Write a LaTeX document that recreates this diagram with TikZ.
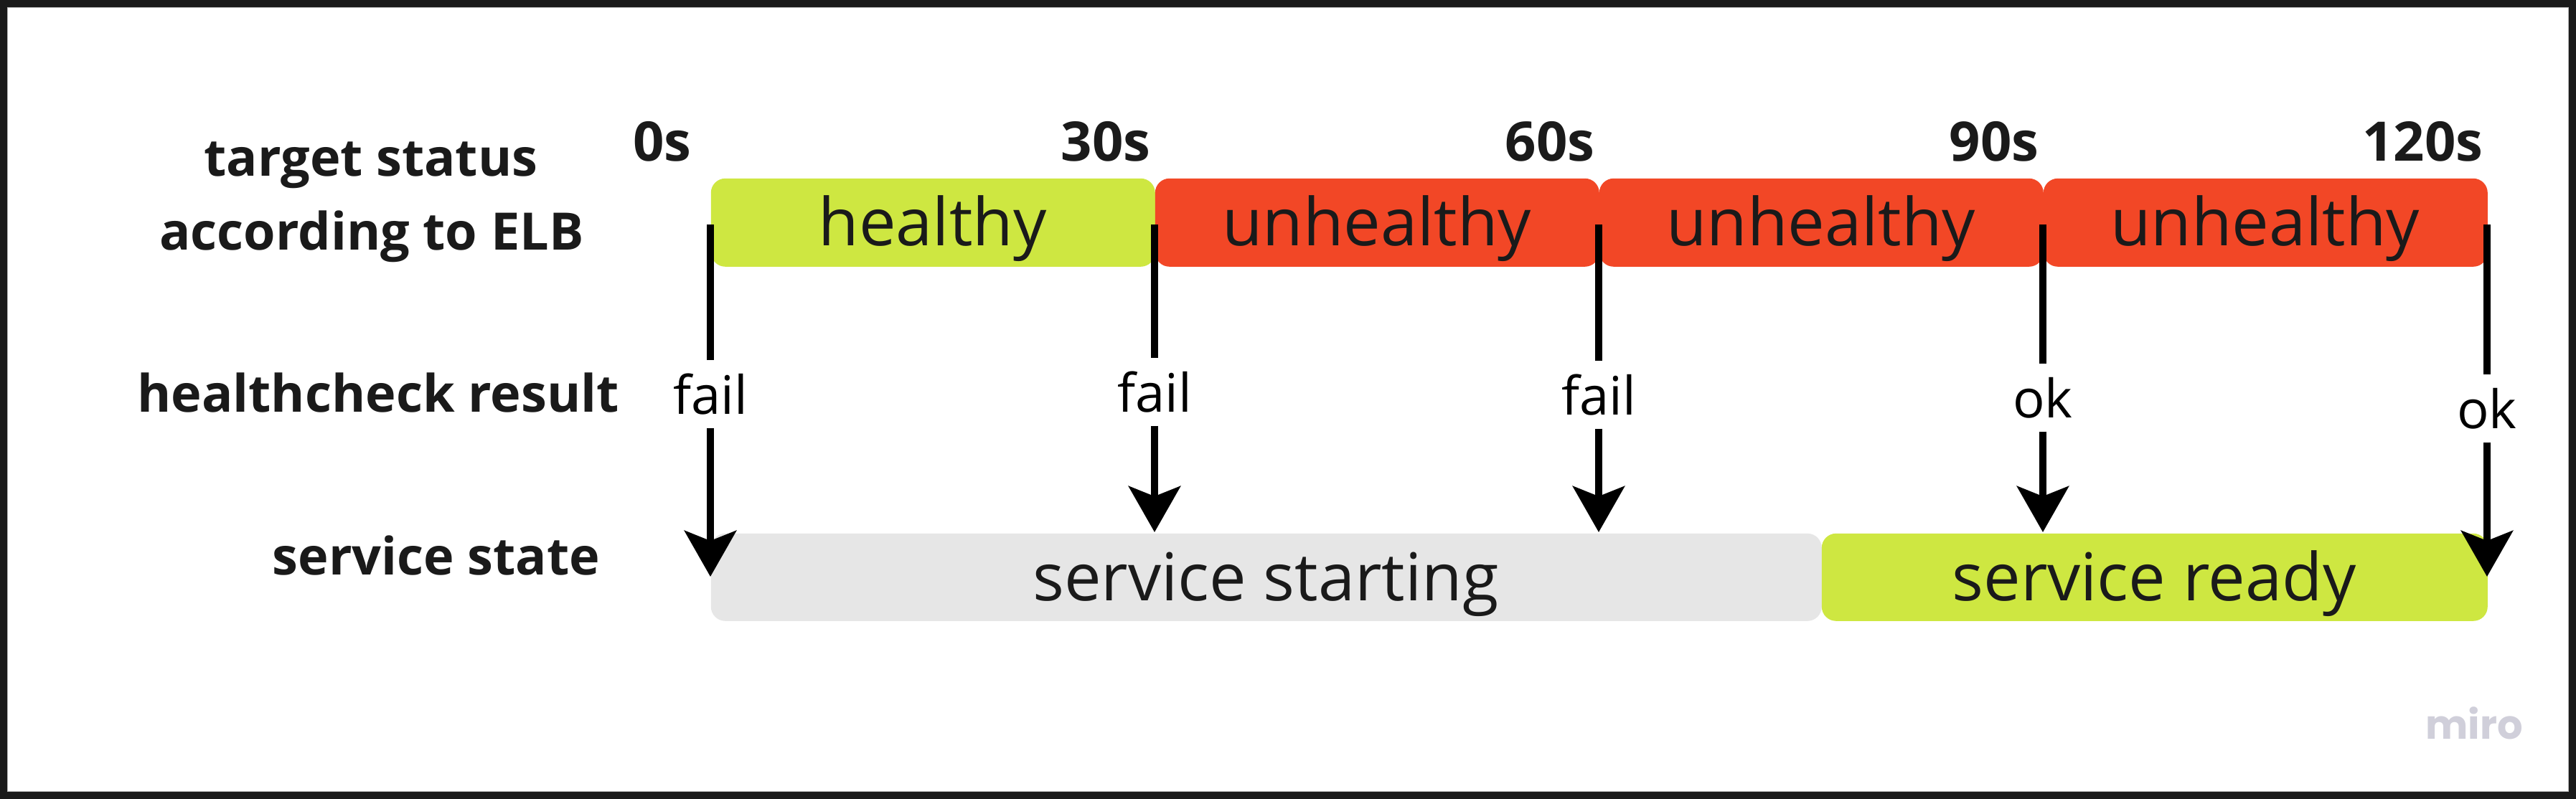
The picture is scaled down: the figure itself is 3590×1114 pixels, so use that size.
\documentclass[tikz,border=0pt]{standalone}
\usepackage{fontspec}
\setmainfont{Open Sans}
\newfontfamily\mirofont{Poppins}
\usetikzlibrary{arrows.meta}
\definecolor{elbgreen}{HTML}{CEE741}
\definecolor{elbred}{HTML}{F24726}
\definecolor{elbgray}{HTML}{E6E6E6}
\definecolor{framecol}{HTML}{1A1A1A}
\definecolor{txt}{HTML}{1A1A1A}
\definecolor{mirocol}{HTML}{D0CFDA}
\begin{document}
\begin{tikzpicture}[x=0.25pt,y=-0.25pt,
  box/.style={rectangle, rounded corners=5pt, minimum height=30.75pt, inner sep=0pt, anchor=north west, draw=none},
  boxtext/.style={font=\fontsize{23}{27}\selectfont, text=txt, anchor=base, inner sep=0pt},
  timelbl/.style={font=\bfseries\fontsize{19}{22}\selectfont, text=txt, anchor=base east, inner sep=0pt},
  sidelbl/.style={font=\bfseries\fontsize{18}{22}\selectfont, text=txt, anchor=base, inner sep=0pt},
  hclbl/.style={font=\fontsize{18.5}{22}\selectfont, text=black, anchor=base, inner sep=4.5pt},
  conn/.style={draw=black, line width=2.5pt},
  tipconn/.style={conn, -{Stealth[length=16pt,width=18pt,inset=3.5pt]}}
]
\useasboundingbox (0,0) rectangle (3590,1114);
\fill[framecol] (0,0) rectangle (3590,1114);
\fill[white] (10,10) rectangle (3580,1104);
\draw[black!30, line width=0.3pt] (10.5,10.5) rectangle (3579.5,1103.5);

% side labels
\node[sidelbl] (s1) at (517,245) {target status};
\node[sidelbl] (s2) at (518,348) {according to ELB};
\node[sidelbl] (s3) at (527,574) {healthcheck result};
\node[sidelbl] (s4) at (608,801) {service state};

% time labels
\node[timelbl] (l0) at (964,224) {0s};
\node[timelbl] (l30) at (1604,224) {30s};
\node[timelbl] (l60) at (2223,224) {60s};
\node[timelbl] (l90) at (2842,224) {90s};
\node[timelbl] (l120) at (3461,224) {120s};

% ELB status boxes
\node[box, fill=elbgreen, minimum width=154.75pt] (b1) at (990,248) {};
\node[box, fill=elbred, minimum width=154.75pt] (b2) at (1609,248) {};
\node[box, fill=elbred, minimum width=154.75pt] (b3) at (2228,248) {};
\node[box, fill=elbred, minimum width=154.75pt] (b4) at (2847,248) {};
\node[boxtext] (tb1) at (1299.5,342) {healthy};
\node[boxtext] (tb2) at (1918.5,342) {unhealthy};
\node[boxtext] (tb3) at (2537.5,342) {unhealthy};
\node[boxtext] (tb4) at (3156.5,342) {unhealthy};

% service state boxes
\node[box, fill=elbgray, minimum width=387pt, minimum height=30.5pt] (ss) at (990,743) {};
\node[box, fill=elbgreen, minimum width=232pt, minimum height=30.5pt] (sr) at (2538,743) {};
\node[boxtext] (tss) at (1764,837) {service starting};
\node[boxtext] (tsr) at (3002,837) {service ready};

% healthcheck connectors
\coordinate (t0) at (990,313);
\coordinate (t1) at (1609,313);
\coordinate (t2) at (2228,313);
\coordinate (t3) at (2847,313);
\coordinate (t4) at (3466,313);
\coordinate (a0) at (990,804);
\coordinate (a1) at (1609,742);
\coordinate (a2) at (2228,742);
\coordinate (a3) at (2847,742);
\coordinate (a4) at (3466,804);
\node[hclbl] (h0) at (990,577) {fail};
\node[hclbl] (h1) at (1609,574) {fail};
\node[hclbl] (h2) at (2228,578) {fail};
\node[hclbl] (h3) at (2847,582) {ok};
\node[hclbl] (h4) at (3466,597) {ok};
\foreach \i in {0,...,4}{
  \draw[conn] (t\i) -- (h\i.north);
  \draw[tipconn] (h\i.south) -- (a\i);
}

\node[font=\mirofont\bfseries\fontsize{14}{16}\selectfont, text=mirocol, anchor=base, inner sep=0pt] (miro) at (3448,1030) {miro};
\end{tikzpicture}
\end{document}
